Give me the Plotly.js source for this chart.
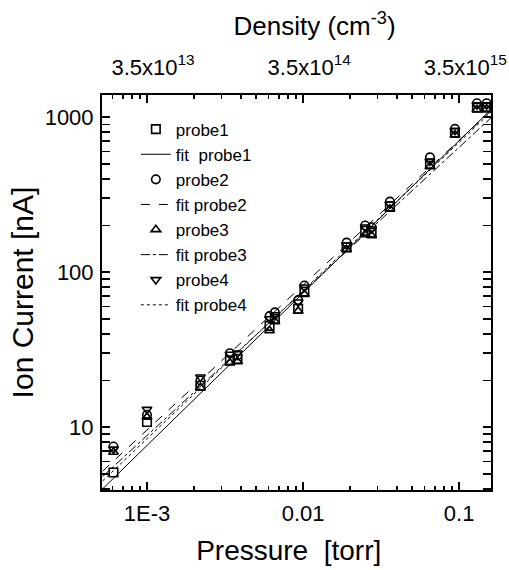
<!DOCTYPE html>
<html><head><meta charset="utf-8">
<script src="https://cdn.plot.ly/plotly-3.0.1.min.js"></script>
<style>html,body{margin:0;padding:0;background:#fff}#c{width:509px;height:570px}</style>
</head><body><div id="c"></div>
<script>
const pressure = [0.00061, 0.001, 0.0022, 0.0034, 0.0038, 0.0061, 0.0066, 0.0093, 0.0102, 0.019, 0.025, 0.0275, 0.036, 0.065, 0.094, 0.13, 0.15];
const probe1 = [5.1, 10.8, 18.5, 27, 27.5, 45, 50, 58, 75, 145, 185, 180, 265, 500, 790, 1150, 1150];
const probe2 = [7.5, 12, 20, 30, 29, 52, 55, 66, 82, 155, 200, 195, 285, 550, 840, 1230, 1230];
const probe3 = [6.9, 11.6, 18, 26, 26.5, 42, 48, 56, 72, 140, 175, 172, 255, 480, 770, 1120, 1130];
const probe4 = [7.2, 13, 21, 29.5, 30, 50, 53, 64, 80, 150, 195, 190, 275, 520, 820, 1200, 1200];
const fitX = [0.00052, 0.16];
const fit1 = [4.0, 1120];
const fit2 = [5.2, 1100];
const fit3 = [4.8, 990];
const fit4 = [4.5, 1080];
const densityTicks = [0.001, 0.01, 0.1];
const densityLabels = ["&nbsp;&nbsp;3.5x10<sup>13</sup>", "&nbsp;&nbsp;3.5x10<sup>14</sup>", "&nbsp;&nbsp;3.5x10<sup>15</sup>"];

const mk = (sym) => ({symbol: sym, size: 8.5, color: '#000', line: {color: '#000', width: 1.6}});
const traces = [
  {x: pressure, y: probe1, mode: 'markers', name: 'probe1', marker: mk('square-open')},
  {x: fitX, y: fit1, mode: 'lines', name: 'fit  probe1', line: {color: '#000', width: 1}},
  {x: pressure, y: probe2, mode: 'markers', name: 'probe2', marker: mk('circle-open')},
  {x: fitX, y: fit2, mode: 'lines', name: 'fit probe2', line: {color: '#000', width: 1, dash: 'dash'}},
  {x: pressure, y: probe3, mode: 'markers', name: 'probe3', marker: mk('triangle-up-open')},
  {x: fitX, y: fit3, mode: 'lines', name: 'fit probe3', line: {color: '#000', width: 1, dash: 'dashdot'}},
  {x: pressure, y: probe4, mode: 'markers', name: 'probe4', marker: mk('triangle-down-open')},
  {x: fitX, y: fit4, mode: 'lines', name: 'fit probe4', line: {color: '#000', width: 1, dash: 'dot'}},
  {x: fitX, y: fit1, xaxis: 'x2', mode: 'lines', showlegend: false, hoverinfo: 'skip', line: {color: 'rgba(0,0,0,0)'}}
];

const xr = [Math.log10(0.000515), Math.log10(0.160)];
const yr = [Math.log10(3.93), Math.log10(1390)];
const font = {family: 'Liberation Sans, Arial, sans-serif', color: '#000'};
const minorX = {ticks: 'inside', ticklen: 4, tickwidth: 1.5, tickcolor: '#000', dtick: 'D1', showgrid: false};

const layout = {
  width: 509, height: 570,
  margin: {l: 102, r: 18, t: 95, b: 80},
  paper_bgcolor: '#fff', plot_bgcolor: '#fff',
  font: Object.assign({size: 18}, font),
  showlegend: true,
  legend: {x: 0.087, y: 0.958, xanchor: 'left', yanchor: 'top', bgcolor: 'rgba(0,0,0,0)', font: Object.assign({size: 17}, font), itemwidth: 30, tracegroupgap: 0},
  xaxis: {
    type: 'log', range: xr, tickvals: [0.001, 0.01, 0.1], ticktext: ['1E-3', '0.01', '0.1'],
    ticks: 'inside', ticklen: 8, tickwidth: 1.5, tickcolor: '#000', ticklabelstandoff: 3,
    showline: true, linecolor: '#000', linewidth: 2, mirror: true, showgrid: false, zeroline: false,
    tickfont: Object.assign({size: 22}, font),
    minor: minorX,
    title: {text: 'Pressure  [torr]&nbsp;&nbsp;', font: Object.assign({size: 28}, font), standoff: 15}
  },
  xaxis2: {
    type: 'log', range: xr, overlaying: 'x', side: 'top', anchor: 'y',
    tickvals: densityTicks, ticktext: densityLabels,
    ticks: 'inside', ticklen: 8, tickwidth: 1.5, tickcolor: '#000', ticklabelstandoff: 15,
    showline: false, showgrid: false, zeroline: false,
    tickfont: Object.assign({size: 22}, font),
    minor: minorX,
    title: {text: '&nbsp;&nbsp;&nbsp;&nbsp;&nbsp;Density (cm<sup>-3</sup>)', font: Object.assign({size: 26}, font), standoff: 8}
  },
  yaxis: {
    type: 'log', range: yr, tickvals: [10, 100, 1000], ticktext: ['10', '100', '1000'],
    ticks: 'inside', ticklen: 8, tickwidth: 1.5, tickcolor: '#000', ticklabelstandoff: 2,
    showline: true, linecolor: '#000', linewidth: 2, mirror: 'allticks', showgrid: false, zeroline: false,
    tickfont: Object.assign({size: 22}, font),
    minor: {ticks: 'inside', ticklen: 4, tickwidth: 1.5, tickcolor: '#000', dtick: 'D1', showgrid: false},
    title: {text: 'Ion Current [nA]', font: Object.assign({size: 30}, font), standoff: 2}
  }
};
Plotly.newPlot('c', traces, layout, {displayModeBar: false, staticPlot: true});
</script></body></html>
